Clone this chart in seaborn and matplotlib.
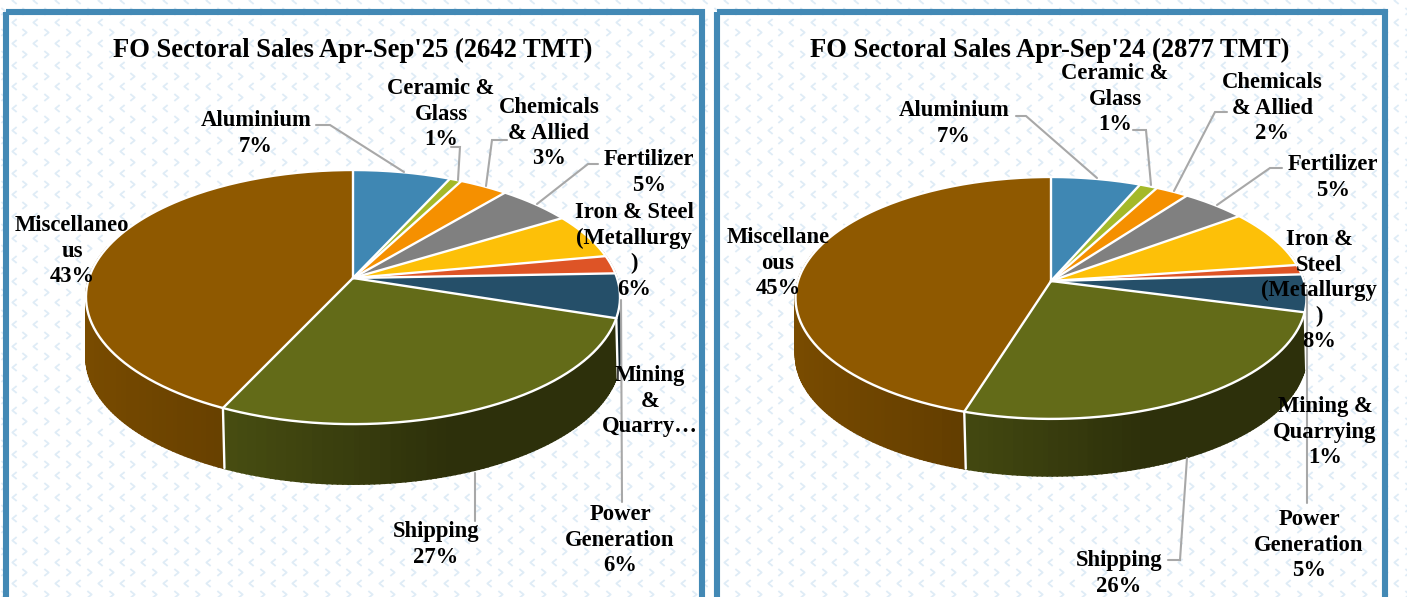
import numpy as np
import matplotlib
matplotlib.use("Agg")
import matplotlib.pyplot as plt
from matplotlib.patches import Rectangle
from matplotlib.path import Path
import seaborn as sns

sectors = ["Aluminium", "Ceramic & Glass", "Chemicals & Allied", "Fertilizer", "Iron & Steel (Metallurgy)",
           "Mining & Quarrying", "Power Generation", "Shipping", "Miscellaneous"]
sales_25 = [6.85, 0.85, 3.4, 5.2, 5.8, 2.3, 5.6, 27.0, 43.0]
sales_24 = [6.5, 1.3, 2.4, 4.7, 7.9, 1.3, 5.0, 25.7, 45.2]
sector_colors = ["#3F87B3", "#A4B929", "#F59000", "#808080", "#FDC008", "#DE5426", "#254F69", "#636B18", "#8F5900"]
title_25 = "FO Sectoral Sales Apr-Sep'25 (2642 TMT)"
title_24 = "FO Sectoral Sales Apr-Sep'24 (2877 TMT)"

# text lines, centre x and first baseline
labels_25 = [
    (["Aluminium", "7%"], 256, 126),
    (["Ceramic &", "Glass", "1%"], 441, 94),
    (["Chemicals", "& Allied", "3%"], 549, 113),
    (["Fertilizer", "5%"], 649, 165),
    (["Iron & Steel", "(Metallurgy", ")", "6%"], 634, 218),
    (["Miscellaneo", "us", "43%"], 72, 231),
    (["Mining", "&", "Quarry…"], 650, 381),
    (["Power", "Generation", "6%"], 620, 520),
    (["Shipping", "27%"], 436, 537),
]
labels_24 = [
    (["Aluminium", "7%"], 954, 116),
    (["Ceramic &", "Glass", "1%"], 1115, 79),
    (["Chemicals", "& Allied", "2%"], 1272, 88),
    (["Fertilizer", "5%"], 1333, 170),
    (["Iron &", "Steel", "(Metallurgy", ")", "8%"], 1319, 245),
    (["Miscellane", "ous", "45%"], 778, 243),
    (["Mining &", "Quarrying", "1%"], 1325, 412),
    (["Power", "Generation", "5%"], 1309, 525),
    (["Shipping", "26%"], 1119, 566),
]
leaders_25 = [
    [(316, 125), (330, 125), (404, 172)],
    [(451, 147), (460, 147), (458, 180)],
    [(507, 140), (492, 140), (486, 186)],
    [(598, 164), (588, 164), (537, 204)],
    [(621, 300), (622, 502)],
    [(475, 473), (475, 521)],
]
leaders_24 = [
    [(1016, 116), (1026, 116), (1097, 178)],
    [(1133, 130), (1146, 130), (1151, 185)],
    [(1227, 112), (1215, 112), (1174, 191)],
    [(1282, 168), (1270, 168), (1217, 205)],
    [(1307, 290), (1307, 503)],
    [(1187, 458), (1180, 560), (1168, 560)],
]

sns.set_theme(style="white")
plt.rcParams["font.family"] = ["Liberation Serif", "DejaVu Serif"]

FRAME = "#4389B5"
LEADER = "#A8A8A8"
CHEVRON = "#DFECF6"
LABEL_PT = 16.3
TITLE_PT = 19.2


def project(theta, cx, cy, rx, ry, k):
    # perspective of the pie disc, theta clockwise from 12 o'clock
    u, v = np.sin(theta), np.cos(theta)
    w = 1 + k * v
    return cx + rx * u / w, cy - ry * v / w


def draw_pie(ax, values, cx, cy, rx, ry, k, depth):
    edges = np.radians(np.concatenate([[0], np.cumsum(values)]) / np.sum(values) * 360)
    # side wall first, top disc goes over it
    for color, a, b in zip(sector_colors, edges[:-1], edges[1:]):
        base = np.array(matplotlib.colors.to_rgb(color))
        ramp = sns.blend_palette([base * 0.85, base * 0.72, base * 0.45], 48)
        lo, hi = max(a, np.radians(75)), min(b, np.radians(285))
        if hi <= lo:
            continue
        steps = np.linspace(lo, hi, max(2, int((hi - lo) * 60)))
        for t0, t1 in zip(steps[:-1], steps[1:]):
            x0, y0 = project(t0, cx, cy, rx, ry, k)
            x1, y1 = project(t1, cx, cy, rx, ry, k)
            pos = np.interp(np.sin((t0 + t1) / 2), [-1, -0.42, 0.3], [0, 0.5, 1])
            ax.fill([x0, x1, x1, x0], [y0, y1, y1 + depth, y0 + depth], color=ramp[int(pos * 47)],
                    lw=1.2, zorder=3)
    for i, (a, b) in enumerate(zip(edges[:-1], edges[1:])):
        t = np.linspace(a, b, 80)
        x, y = project(t, cx, cy, rx, ry, k)
        ax.fill(np.r_[cx, x], np.r_[cy, y], color=sector_colors[i], lw=0, zorder=4)
    # white seams between slices and along the rim
    for a in edges[:-1]:
        x, y = project(a, cx, cy, rx, ry, k)
        ax.plot([cx, x], [cy, y], color="white", lw=1.7, zorder=5)
        if np.radians(100) < a < np.radians(260):
            ax.plot([x, x + 1.5], [y, y + depth], color="white", lw=1.7, zorder=5)
    t = np.linspace(0, 2 * np.pi, 360)
    x, y = project(t, cx, cy, rx, ry, k)
    ax.plot(x, y, color="white", lw=1.7, zorder=5)


def draw_labels(ax, labels, leaders, title, title_x):
    for pts in leaders:
        xs, ys = zip(*pts)
        ax.plot(xs, ys, color=LEADER, lw=1.5, zorder=6, solid_joinstyle="miter")
    for lines, x, base in labels:
        for i, line in enumerate(lines):
            ax.text(x, base + i * 25.6, line, ha="center", va="baseline", fontsize=LABEL_PT,
                    fontweight="bold", color="black", zorder=7)
    ax.text(title_x, 57, title, ha="center", va="baseline", fontsize=TITLE_PT, fontweight="bold",
            color="black", zorder=7)


fig = plt.figure(figsize=(14.07, 5.97), dpi=100)
ax = fig.add_axes([0, 0, 1, 1])
ax.set_xlim(0, 1407)
ax.set_ylim(597, 0)
ax.axis("off")

# chevron wallpaper
left_mark = Path([(1, -1.6), (-1, 0), (1, 1.6)], [Path.MOVETO, Path.LINETO, Path.LINETO])
right_mark = Path([(-1, -1.6), (1, 0), (-1, 1.6)], [Path.MOVETO, Path.LINETO, Path.LINETO])
px, py = np.meshgrid(np.arange(-8, 1420, 21.6), np.arange(0, 610, 21.6))
for mark, dx, dy in [(left_mark, 0, 0), (right_mark, 10.8, 10.8)]:
    ax.plot(px.ravel() + dx, py.ravel() + dy, ls="", marker=mark, ms=5, mfc="none", mec=CHEVRON,
            mew=1.3, zorder=1)

for x0, x1 in [(5.5, 701.5), (717, 1385)]:
    ax.add_patch(Rectangle((x0, 12), x1 - x0, 620, fill=False, ec=FRAME, lw=4.4, zorder=2))

draw_pie(ax, sales_25, 353, 278, 264, 124.2, 0.15, 60)
draw_pie(ax, sales_24, 1051, 281, 253, 118.6, 0.14, 57)
draw_labels(ax, labels_25, leaders_25, title_25, 353)
draw_labels(ax, labels_24, leaders_24, title_24, 1050)

fig.savefig("out.png", dpi=100)
